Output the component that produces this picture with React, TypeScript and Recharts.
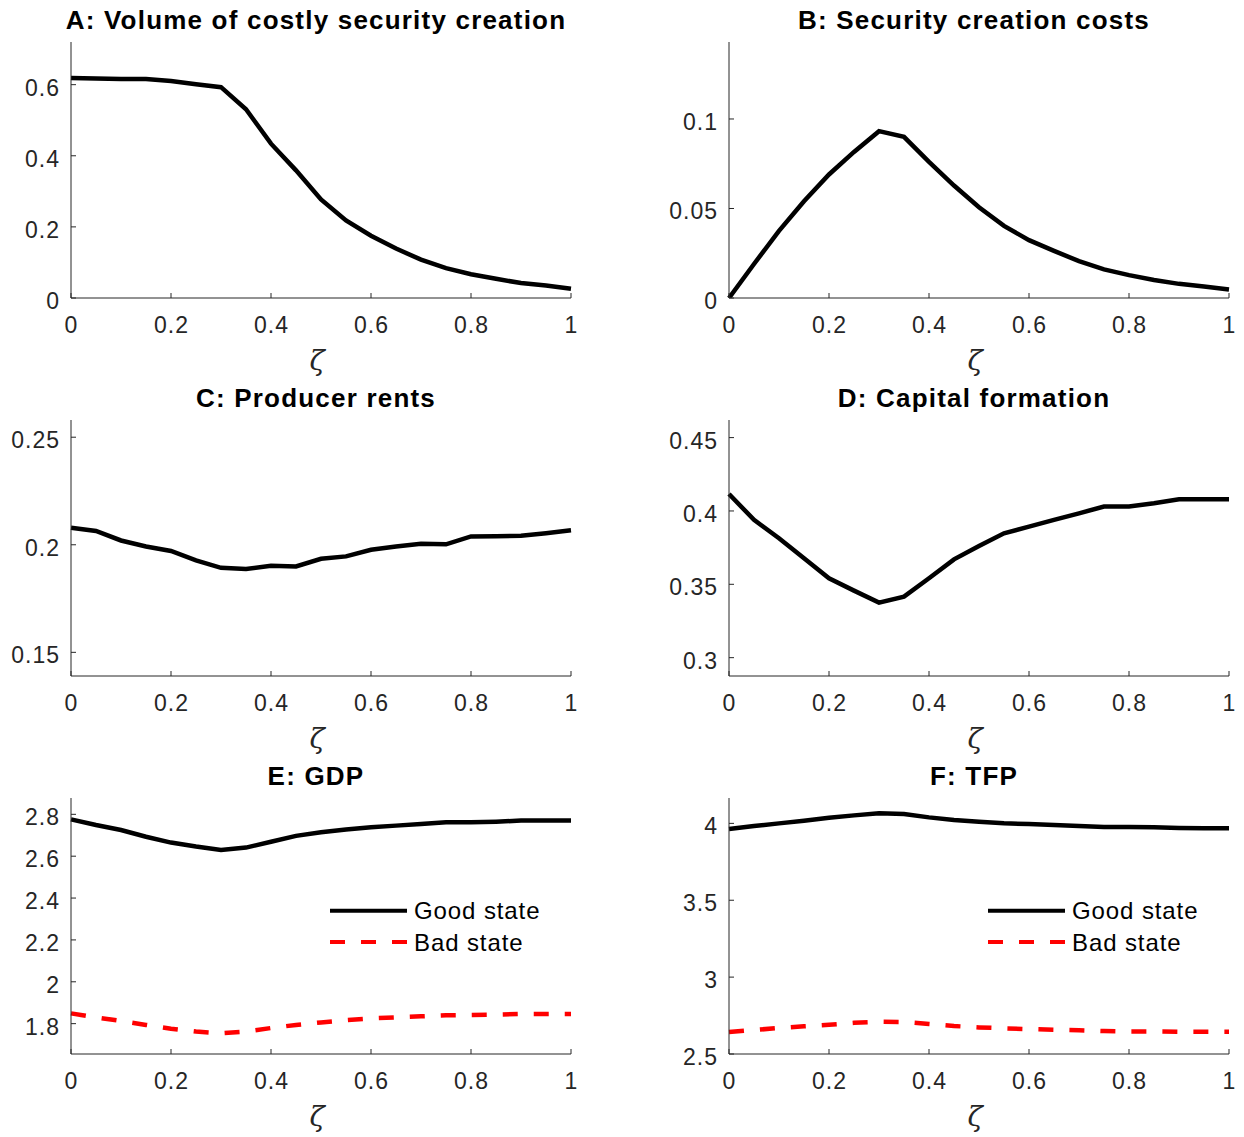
import React from "react";
import { LineChart, Line, XAxis, YAxis } from "recharts";

// grid of zeta values used by every panel
const zeta = [0, 0.05, 0.1, 0.15, 0.2, 0.25, 0.3, 0.35, 0.4, 0.45, 0.5, 0.55, 0.6, 0.65, 0.7, 0.75, 0.8, 0.85, 0.9, 0.95, 1];
const xTicks = [0, 0.2, 0.4, 0.6, 0.8, 1];

const volume = [0.619, 0.617, 0.616, 0.616, 0.61, 0.601, 0.593, 0.531, 0.434, 0.359, 0.277, 0.218, 0.175, 0.139, 0.108, 0.084, 0.067, 0.054, 0.042, 0.035, 0.026];
const costs = [0, 0.019, 0.0375, 0.054, 0.069, 0.0816, 0.0932, 0.09, 0.076, 0.0628, 0.0507, 0.0403, 0.0323, 0.0263, 0.0206, 0.016, 0.0128, 0.0101, 0.0079, 0.0064, 0.0047];
const rents = [0.2079, 0.2064, 0.202, 0.1992, 0.1971, 0.1927, 0.1893, 0.1887, 0.1902, 0.1899, 0.1935, 0.1946, 0.1977, 0.1992, 0.2005, 0.2002, 0.2039, 0.204, 0.2042, 0.2054, 0.2068];
const capital = [0.4116, 0.3939, 0.3814, 0.3677, 0.3541, 0.3457, 0.3375, 0.3416, 0.3541, 0.367, 0.3761, 0.3848, 0.3893, 0.3939, 0.3984, 0.403, 0.403, 0.4052, 0.408, 0.408, 0.408];
const gdpGood = [2.776, 2.749, 2.725, 2.693, 2.665, 2.646, 2.63, 2.641, 2.669, 2.697, 2.714, 2.728, 2.738, 2.746, 2.754, 2.762, 2.762, 2.765, 2.77, 2.77, 2.77];
const gdpBad = [1.849, 1.83, 1.813, 1.794, 1.776, 1.762, 1.754, 1.762, 1.779, 1.794, 1.806, 1.817, 1.825, 1.83, 1.835, 1.84, 1.841, 1.843, 1.846, 1.846, 1.846];
const tfpGood = [3.963, 3.983, 4.0, 4.017, 4.037, 4.052, 4.065, 4.061, 4.039, 4.022, 4.011, 4.0, 3.996, 3.989, 3.983, 3.976, 3.976, 3.974, 3.97, 3.968, 3.968];
const tfpBad = [2.643, 2.656, 2.669, 2.68, 2.69, 2.703, 2.71, 2.708, 2.695, 2.682, 2.673, 2.667, 2.662, 2.658, 2.654, 2.649, 2.647, 2.647, 2.645, 2.645, 2.645];

const AXIS = "#262626";
const FONT = "'Liberation Sans', Arial, Helvetica, sans-serif";

// MATLAB-style ticks: pointing inward, label outside
const XTick = (props: any) => {
  const { x, y, payload } = props;
  return (
    <g>
      <line x1={x} x2={x} y1={y} y2={y - 5} stroke={AXIS} strokeWidth={1} />
      <text x={x + 0.5} y={y + 35} textAnchor="middle" fontSize={23} fill={AXIS} fontFamily={FONT} letterSpacing={1}>
        {payload.value}
      </text>
    </g>
  );
};

const YTick = (props: any) => {
  const { x, y, payload } = props;
  return (
    <g>
      <line x1={x} x2={x + 5} y1={y} y2={y} stroke={AXIS} strokeWidth={1} />
      <text x={x - 11} y={y + 11} textAnchor="end" fontSize={23} fill={AXIS} fontFamily={FONT} letterSpacing={1}>
        {payload.value}
      </text>
    </g>
  );
};

const ZetaLabel = (props: any) => {
  const { x, y, width } = props.viewBox;
  return (
    <text
      x={x + width / 2 - 4}
      y={y + 72}
      textAnchor="middle"
      fontSize={28}
      fontStyle="italic"
      fontFamily="'DejaVu Serif', 'Liberation Serif', serif"
      fill={AXIS}
    >
      ζ
    </text>
  );
};

interface Series {
  key: string;
  color: string;
  dash?: string;
}

interface PanelProps {
  left: number;
  top: number;
  width: number;
  title: string;
  data: Record<string, number>[];
  yDomain: [number, number];
  yTicks: number[];
  series: Series[];
  legend?: boolean;
}

function Panel({ left, top, width, title, data, yDomain, yTicks, series, legend }: PanelProps) {
  const plotLeft = left + 71;
  const plotTop = top + 42;
  return (
    <>
      <div
        style={{
          position: "absolute",
          left: plotLeft - 15,
          top: plotTop - 37,
          width: 520,
          textAlign: "center",
          fontFamily: FONT,
          fontWeight: "bold",
          fontSize: 26,
          letterSpacing: 1.2,
          lineHeight: "30px",
          color: "#000",
          whiteSpace: "nowrap",
        }}
      >
        {title}
      </div>
      <div style={{ position: "absolute", left, top }}>
        <LineChart width={width} height={379} data={data} margin={{ top: 42, right: width - 571, left: 0, bottom: 0 }}>
          <XAxis
            dataKey="x"
            type="number"
            domain={[0, 1]}
            ticks={xTicks}
            interval={0}
            height={81}
            tickSize={0}
            tickMargin={0}
            tick={XTick}
            tickLine={false}
            axisLine={{ stroke: AXIS, strokeWidth: 1 }}
            label={{ content: ZetaLabel }}
          />
          <YAxis
            type="number"
            domain={yDomain}
            allowDataOverflow
            ticks={yTicks}
            interval={0}
            width={71}
            tickSize={0}
            tickMargin={0}
            tick={YTick}
            tickLine={false}
            axisLine={{ stroke: AXIS, strokeWidth: 1 }}
          />
          {series.map((s) => (
            <Line
              key={s.key}
              type="linear"
              dataKey={s.key}
              stroke={s.color}
              strokeWidth={4.5}
              strokeDasharray={s.dash}
              dot={false}
              isAnimationActive={false}
            />
          ))}
        </LineChart>
      </div>
      {legend && (
        <svg
          style={{ position: "absolute", left: plotLeft + 255, top: plotTop + 95 }}
          width={230}
          height={70}
        >
          <line x1={4} x2={81} y1={17.7} y2={17.7} stroke="#000" strokeWidth={4} />
          <text x={88} y={26} fontSize={24} fontFamily={FONT} fill="#000" letterSpacing={0.9}>
            Good state
          </text>
          <line x1={4} x2={81} y1={49} y2={49} stroke="#ff0000" strokeWidth={4} strokeDasharray="15 16" />
          <text x={88} y={58} fontSize={24} fontFamily={FONT} fill="#000" letterSpacing={0.9}>
            Bad state
          </text>
        </svg>
      )}
    </>
  );
}

const tableA = zeta.map((x, i) => ({ x, v: volume[i] }));
const tableB = zeta.map((x, i) => ({ x, v: costs[i] }));
const tableC = zeta.map((x, i) => ({ x, v: rents[i] }));
const tableD = zeta.map((x, i) => ({ x, v: capital[i] }));
const tableE = zeta.map((x, i) => ({ x, good: gdpGood[i], bad: gdpBad[i] }));
const tableF = zeta.map((x, i) => ({ x, good: tfpGood[i], bad: tfpBad[i] }));

const single: Series[] = [{ key: "v", color: "#000" }];
const twoStates: Series[] = [
  { key: "good", color: "#000" },
  { key: "bad", color: "#ff0000", dash: "15 16" },
];

export default function App() {
  return (
    <div style={{ position: "absolute", left: 0, top: 0, width: 1244, height: 1137, background: "#fff", overflow: "hidden" }}>
      <Panel left={0} top={0} width={622} title="A: Volume of costly security creation" data={tableA} yDomain={[0, 0.72]} yTicks={[0, 0.2, 0.4, 0.6]} series={single} />
      <Panel left={658} top={0} width={586} title="B: Security creation costs" data={tableB} yDomain={[0, 0.143]} yTicks={[0, 0.05, 0.1]} series={single} />
      <Panel left={0} top={378} width={622} title="C: Producer rents" data={tableC} yDomain={[0.139, 0.258]} yTicks={[0.15, 0.2, 0.25]} series={single} />
      <Panel left={658} top={378} width={586} title="D: Capital formation" data={tableD} yDomain={[0.2875, 0.462]} yTicks={[0.3, 0.35, 0.4, 0.45]} series={single} />
      <Panel left={0} top={756} width={622} title="E: GDP" data={tableE} yDomain={[1.655, 2.878]} yTicks={[1.8, 2, 2.2, 2.4, 2.6, 2.8]} series={twoStates} legend />
      <Panel left={658} top={756} width={586} title="F: TFP" data={tableF} yDomain={[2.5, 4.165]} yTicks={[2.5, 3, 3.5, 4]} series={twoStates} legend />
    </div>
  );
}
